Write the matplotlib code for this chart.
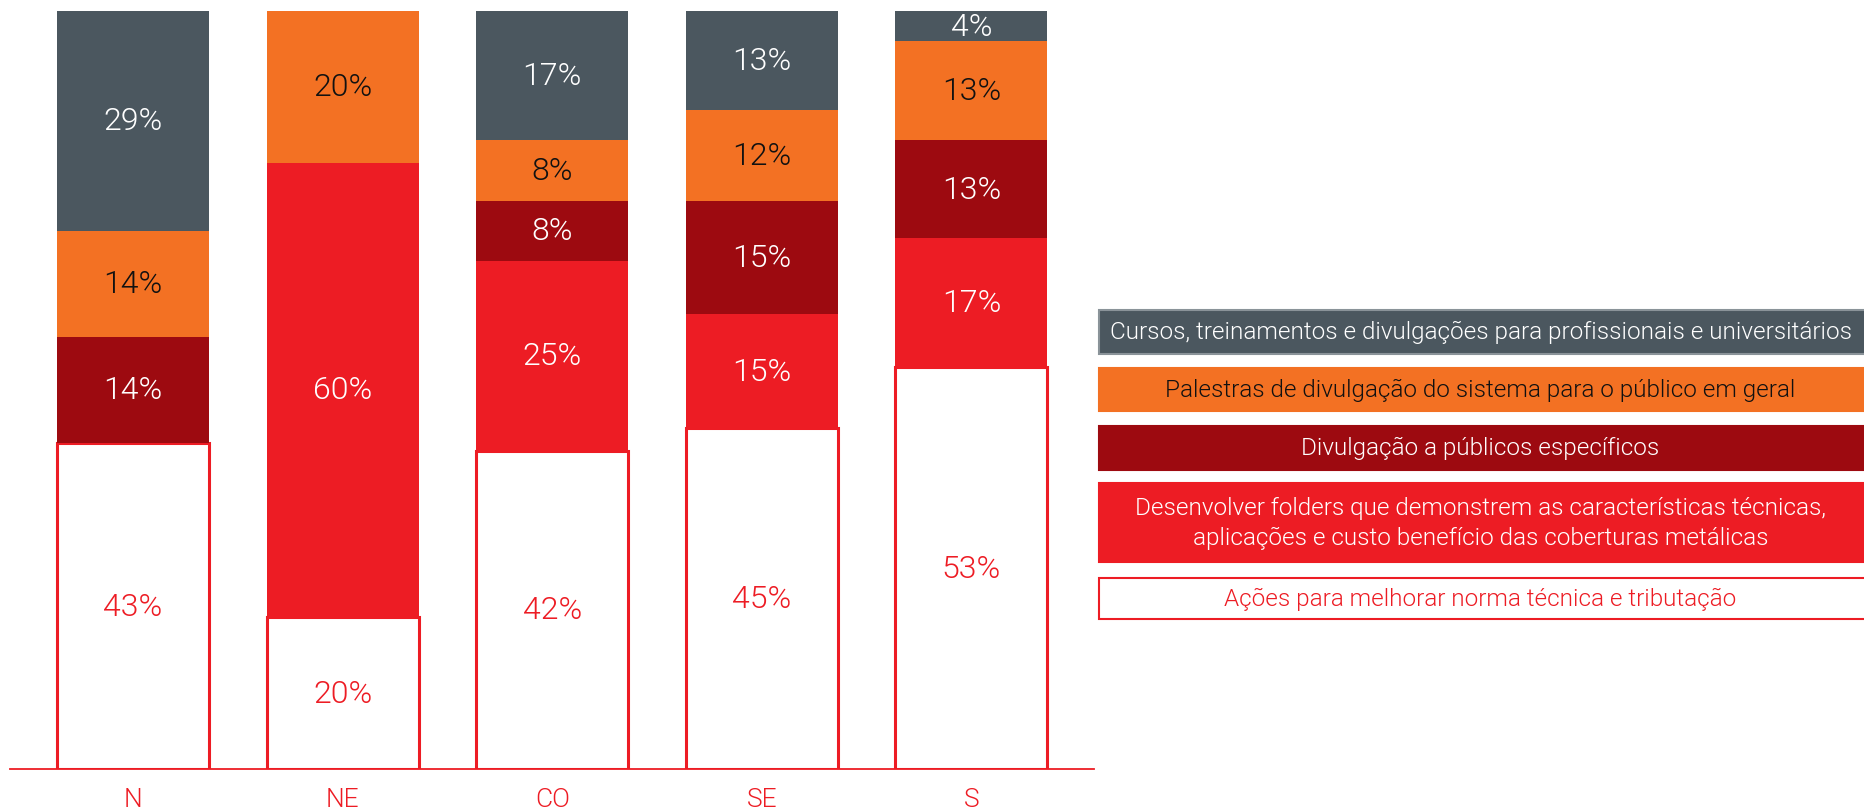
import matplotlib
matplotlib.use('Agg')
import matplotlib.pyplot as plt
from matplotlib import font_manager
from matplotlib.patches import Rectangle

# Data (percent per region)
regions = ['N', 'NE', 'CO', 'SE', 'S']
acoes = [43, 20, 42, 45, 53]          # Ações para melhorar norma técnica e tributação
folders = [0, 60, 25, 15, 17]         # Desenvolver folders ...
publicos = [14, 0, 8, 15, 13]         # Divulgação a públicos específicos
palestras = [14, 20, 8, 12, 13]       # Palestras de divulgação ...
cursos = [29, 0, 17, 13, 4]           # Cursos, treinamentos ...

legend_labels = [
    'Cursos, treinamentos e divulgações para profissionais e universitários',
    'Palestras de divulgação do sistema para o público em geral',
    'Divulgação a públicos específicos',
    'Desenvolver folders que demonstrem as características técnicas,\naplicações e custo benefício das coberturas metálicas',
    'Ações para melhorar norma técnica e tributação',
]

GRAY = '#4b575f'
ORANGE = '#f37123'
DARKRED = '#9d0a10'
RED = '#ed1c24'
WHITE = '#ffffff'

names = {f.name for f in font_manager.fontManager.ttflist}
font = 'Roboto' if 'Roboto' in names else 'DejaVu Sans'
plt.rcParams['font.family'] = [font, 'DejaVu Sans']
WT = 300

W, H = 1864, 812
fig = plt.figure(figsize=(W / 100, H / 100), dpi=100)

# bar axes: x 10..1094 px, y 12..770 px from top
ax = fig.add_axes([10 / W, (H - 770) / H, (1094 - 10) / W, (770 - 12) / H])
ax.set_xlim(-0.587, 4.585)
ax.set_ylim(0, 100)

series = [
    (acoes, WHITE, RED),
    (folders, RED, WHITE),
    (publicos, DARKRED, WHITE),
    (palestras, ORANGE, '#111111'),
    (cursos, GRAY, WHITE),
]

x = range(len(regions))
bottom = [0] * len(regions)
for vals, color, tcolor in series:
    if color == WHITE:
        ax.bar(x, vals, 0.725, bottom=bottom, color=WHITE, edgecolor=RED, linewidth=2.2, zorder=2)
    else:
        ax.bar(x, vals, 0.725, bottom=bottom, color=color, linewidth=0, zorder=3)
    for i, v in enumerate(vals):
        if v > 0:
            ax.text(i, bottom[i] + v / 2, f'{v}%', ha='center', va='center',
                    fontsize=23, fontweight=WT, color=tcolor, zorder=4)
    bottom = [b + v for b, v in zip(bottom, vals)]

for s in ['top', 'right', 'left']:
    ax.spines[s].set_visible(False)
ax.spines['bottom'].set_color(RED)
ax.spines['bottom'].set_linewidth(1.3)
ax.spines['bottom'].set_zorder(5)
ax.set_yticks([])
ax.set_xticks(list(x))
ax.set_xticklabels(regions, fontsize=19, fontweight=WT, color=RED)
ax.tick_params(axis='x', length=0, pad=13)

# legend boxes
lax = fig.add_axes([1097 / W, 0, (W - 1097) / W, 1])
lax.set_xlim(0, 1)
lax.set_ylim(H, 0)
lax.axis('off')
boxes = [(311, 355), (369, 412), (427, 471), (484, 563), (579, 620)]
face = [GRAY, ORANGE, DARKRED, RED, WHITE]
tcol = [WHITE, '#111111', WHITE, WHITE, RED]
edge = ['#8a9399', ORANGE, DARKRED, RED, RED]
for (y0, y1), fc, tc, ec, lab in zip(boxes, face, tcol, edge, legend_labels):
    lax.add_patch(Rectangle((0.002, y0), 1.2, y1 - y0, facecolor=fc, edgecolor=ec,
                            linewidth=1.5, clip_on=False))
    lax.text(0.5, (y0 + y1) / 2, lab, ha='center', va='center', fontsize=17.5,
             fontweight=WT, color=tc, linespacing=1.35)

fig.savefig('out.png', dpi=100)
